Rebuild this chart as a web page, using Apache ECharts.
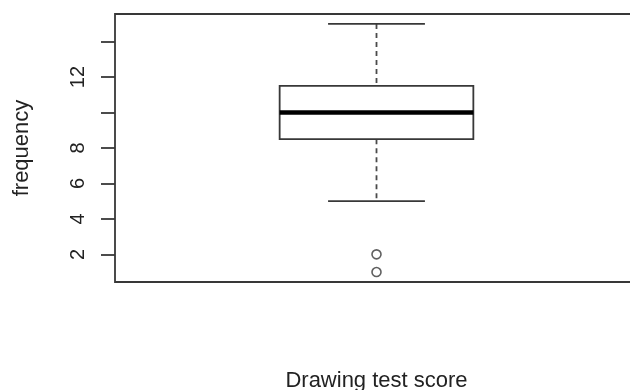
<!DOCTYPE html>
<html>
<head>
<meta charset="utf-8">
<title>Drawing test score</title>
<script src="https://cdn.jsdelivr.net/npm/echarts@6/dist/echarts.min.js"></script>
<style>
  html, body { margin: 0; padding: 0; background: #ffffff; }
  #chart { width: 630px; height: 390px; }
</style>
</head>
<body>
<div id="chart"></div>
<script>
// Five-number summary: lower whisker, Q1, median, Q3, upper whisker
const boxStats = [5, 8.5, 10, 11.5, 15];
// Points beyond the whiskers
const outliers = [2, 1];
// Y-axis tick positions and the ones that carry a label
const yTicks = [2, 4, 6, 8, 10, 12, 14];
const yLabels = [2, 4, 6, 8, 12];
const xTitle = 'Drawing test score';
const yTitle = 'frequency';

const FONT = "'Liberation Sans', Arial, sans-serif";
const INK = '#383838';

const chart = echarts.init(document.getElementById('chart'));

function renderBox(params, api) {
  const x = api.value(0);
  const lo = api.value(1), q1 = api.value(2), med = api.value(3),
        q3 = api.value(4), hi = api.value(5);
  const boxHalf = 0.2, capHalf = 0.1;
  const pLo = api.coord([x, lo]), pQ1 = api.coord([x, q1]);
  const pQ3 = api.coord([x, q3]), pHi = api.coord([x, hi]);
  const boxL = api.coord([x - boxHalf, q3]);
  const boxR = api.coord([x + boxHalf, q1]);
  const medL = api.coord([x - boxHalf, med]);
  const medR = api.coord([x + boxHalf, med]);
  const capL = api.coord([x - capHalf, lo])[0];
  const capR = api.coord([x + capHalf, lo])[0];
  const thin = { stroke: INK, lineWidth: 1.8, fill: null };
  const dashed = { stroke: '#4a4a4a', lineWidth: 1.8, lineDash: [5, 4] };
  return {
    type: 'group',
    children: [
      { type: 'line', shape: { x1: pHi[0], y1: pHi[1], x2: pQ3[0], y2: pQ3[1] }, style: dashed },
      { type: 'line', shape: { x1: pQ1[0], y1: pQ1[1], x2: pLo[0], y2: pLo[1] }, style: dashed },
      { type: 'line', shape: { x1: capL, y1: pHi[1], x2: capR, y2: pHi[1] }, style: thin },
      { type: 'line', shape: { x1: capL, y1: pLo[1], x2: capR, y2: pLo[1] }, style: thin },
      { type: 'rect', shape: { x: boxL[0], y: boxL[1], width: boxR[0] - boxL[0], height: boxR[1] - boxL[1] },
        style: { stroke: INK, lineWidth: 1.8, fill: '#ffffff' } },
      { type: 'line', shape: { x1: medL[0], y1: medL[1], x2: medR[0], y2: medR[1] },
        style: { stroke: '#000000', lineWidth: 4.5 } }
    ]
  };
}

chart.setOption({
  animation: false,
  backgroundColor: '#ffffff',
  grid: {
    left: 115, top: 14, right: -8, bottom: 108,
    outerBoundsMode: 'none',
    show: true, borderColor: INK, borderWidth: 1.8, backgroundColor: 'transparent'
  },
  xAxis: {
    type: 'value', min: 0.46, max: 1.54,
    axisLine: { show: false }, axisTick: { show: false },
    axisLabel: { show: false }, splitLine: { show: false },
    name: xTitle, nameLocation: 'middle', nameGap: 88,
    nameTextStyle: { fontFamily: FONT, fontSize: 22, color: '#222' }
  },
  yAxis: {
    type: 'value', min: 0.44, max: 15.56,
    axisLine: { show: false },
    splitLine: { show: false },
    axisTick: {
      show: true, customValues: yTicks, length: 14,
      lineStyle: { color: INK, width: 1.8 }
    },
    axisLabel: {
      customValues: yLabels, rotate: 90, margin: 27,
      fontFamily: FONT, fontSize: 20, color: '#222'
    },
    name: yTitle, nameLocation: 'middle', nameRotate: 90, nameGap: 82,
    nameTextStyle: { fontFamily: FONT, fontSize: 22, color: '#222' }
  },
  series: [
    {
      type: 'custom',
      renderItem: renderBox,
      data: [[1].concat(boxStats)],
      z: 2
    },
    {
      type: 'scatter',
      data: outliers.map(v => [1, v]),
      symbol: 'circle', symbolSize: 9,
      itemStyle: { color: '#ffffff', borderColor: INK, borderWidth: 1.6 },
      z: 3
    }
  ]
});
</script>
</body>
</html>
